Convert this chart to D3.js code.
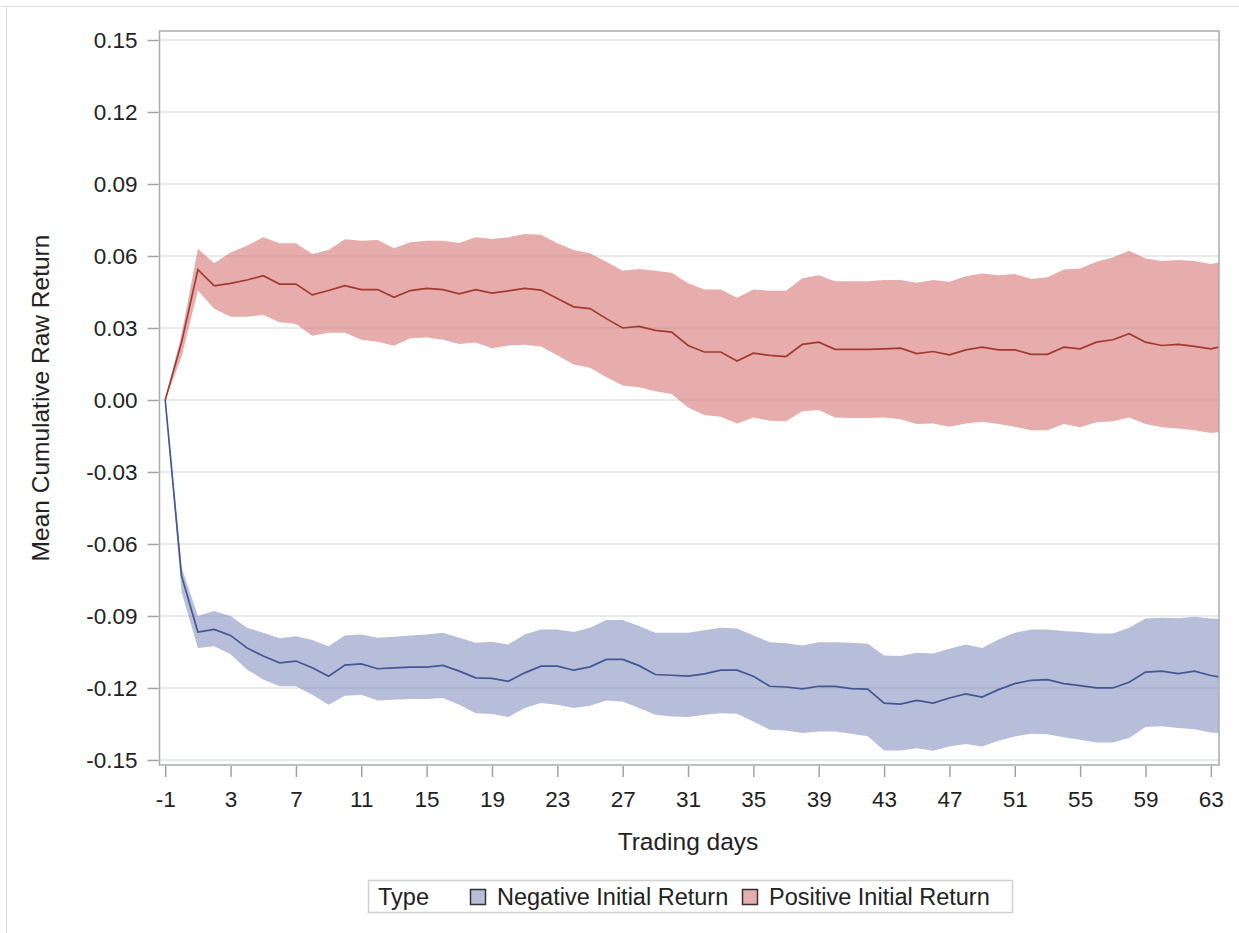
<!DOCTYPE html>
<html>
<head>
<meta charset="utf-8">
<script src="https://cdn.jsdelivr.net/npm/d3@7"></script>
<style>
  body { margin: 0; background: #fff; }
  text { font-family: "Liberation Sans", Arial, sans-serif; fill: #222; }
</style>
</head>
<body>
<script>
        var w = 1239;
        var h = 933;

        // trading days -1 .. 64 (last one is cut by the frame)
        var days = [-1, 0, 1, 2, 3, 4, 5, 6, 7, 8, 9, 10, 11, 12, 13, 14, 15, 16, 17, 18, 19,
                    20, 21, 22, 23, 24, 25, 26, 27, 28, 29, 30, 31, 32, 33, 34, 35, 36, 37, 38, 39,
                    40, 41, 42, 43, 44, 45, 46, 47, 48, 49, 50, 51, 52, 53, 54, 55, 56, 57, 58, 59,
                    60, 61, 62, 63, 64];

        var posMean = [0, 0.024, 0.0543, 0.0476, 0.0486, 0.050, 0.0518, 0.0483, 0.0483, 0.0438, 0.0456,
                    0.0476, 0.046, 0.046, 0.0428, 0.0456, 0.0465, 0.046, 0.0442, 0.046, 0.0445,
                    0.0455, 0.0465, 0.0458, 0.0423, 0.0388, 0.0381, 0.0339, 0.030, 0.0307, 0.029,
                    0.0283, 0.0227, 0.020, 0.020, 0.0162, 0.0195, 0.0186, 0.0181, 0.0232, 0.0241,
                    0.0211, 0.0211, 0.0211, 0.0213, 0.0216, 0.0193, 0.0202, 0.0188, 0.0209, 0.022,
                    0.0209, 0.0209, 0.019, 0.019, 0.022, 0.0213, 0.0241, 0.0251, 0.0276, 0.0241,
                    0.0227, 0.0232, 0.0223, 0.0213, 0.0228];
        var posUpper = [0, 0.0275, 0.063, 0.057, 0.0615, 0.0643, 0.0678, 0.0653, 0.0653, 0.0608, 0.0625,
                    0.067, 0.0664, 0.0667, 0.0632, 0.0657, 0.0664, 0.0664, 0.0654, 0.0678, 0.0671,
                    0.0678, 0.0692, 0.0688, 0.0653, 0.0625, 0.0611, 0.0576, 0.0539, 0.0546, 0.0539,
                    0.053, 0.0486, 0.046, 0.046, 0.0426, 0.046, 0.0455, 0.0455, 0.0507, 0.052,
                    0.0495, 0.0495, 0.0495, 0.050, 0.050, 0.0488, 0.050, 0.0493, 0.0516, 0.0527,
                    0.052, 0.0525, 0.0504, 0.0511, 0.0544, 0.0548, 0.0576, 0.0594, 0.0622, 0.059,
                    0.0579, 0.0583, 0.0579, 0.0567, 0.0578];
        var posLower = [0, 0.018, 0.0456, 0.038, 0.0347, 0.0347, 0.0354, 0.0324, 0.0317, 0.0268, 0.028,
                    0.028, 0.0251, 0.0243, 0.0226, 0.0257, 0.026, 0.0251, 0.0233, 0.024, 0.0216,
                    0.0227, 0.023, 0.0223, 0.0186, 0.0148, 0.0134, 0.0095, 0.006, 0.0053, 0.0036,
                    0.0025, -0.0031, -0.0063, -0.007, -0.0098, -0.0073, -0.0087, -0.0089, -0.0047, -0.0042,
                    -0.0073, -0.0075, -0.0075, -0.0073, -0.008, -0.010, -0.0098, -0.0112, -0.0098, -0.0091,
                    -0.010, -0.0112, -0.0126, -0.0126, -0.010, -0.0114, -0.0093, -0.0089, -0.0073, -0.010,
                    -0.0114, -0.0119, -0.0126, -0.0138, -0.0128];

        var negMean = [0, -0.0733, -0.0967, -0.0956, -0.0981, -0.1033, -0.1067, -0.1095, -0.1088, -0.1116, -0.1151,
                    -0.1105, -0.110, -0.112, -0.1116, -0.1113, -0.1113, -0.1106, -0.113, -0.1158, -0.116,
                    -0.1172, -0.1137, -0.1109, -0.1109, -0.1126, -0.1112, -0.1081, -0.1081, -0.1107, -0.1144,
                    -0.1147, -0.1151, -0.1141, -0.1126, -0.1126, -0.1151, -0.1193, -0.1196, -0.1204, -0.1193,
                    -0.1193, -0.1203, -0.1205, -0.1263, -0.1267, -0.1252, -0.1263, -0.1242, -0.1225, -0.1238,
                    -0.1207, -0.1182, -0.1168, -0.1165, -0.1182, -0.119, -0.120, -0.120, -0.1176, -0.1134,
                    -0.113, -0.114, -0.113, -0.1148, -0.116];
        var negUpper = [0, -0.0698, -0.090, -0.0879, -0.090, -0.0949, -0.097, -0.0993, -0.0984, -0.100, -0.1026,
                    -0.0981, -0.0977, -0.0991, -0.0987, -0.0981, -0.0977, -0.097, -0.0991, -0.1012, -0.1007,
                    -0.1019, -0.0977, -0.0956, -0.0956, -0.0967, -0.0949, -0.0917, -0.0917, -0.0942, -0.097,
                    -0.097, -0.097, -0.0959, -0.0949, -0.0952, -0.0981, -0.1009, -0.1014, -0.1023, -0.1009,
                    -0.1009, -0.1012, -0.1016, -0.1065, -0.1067, -0.1053, -0.1056, -0.1037, -0.1019, -0.1033,
                    -0.0998, -0.097, -0.0956, -0.0956, -0.0963, -0.0967, -0.0973, -0.0973, -0.0949, -0.0911,
                    -0.0907, -0.091, -0.0903, -0.0911, -0.0915];
        var negLower = [0, -0.080, -0.1033, -0.1026, -0.106, -0.1123, -0.1165, -0.1193, -0.1193, -0.1228, -0.127,
                    -0.1232, -0.1228, -0.1252, -0.1249, -0.1246, -0.1246, -0.1242, -0.127, -0.1305, -0.1308,
                    -0.1321, -0.1284, -0.1263, -0.127, -0.1284, -0.1274, -0.1252, -0.1256, -0.1284, -0.1312,
                    -0.1319, -0.1321, -0.1312, -0.1305, -0.1307, -0.134, -0.1374, -0.1377, -0.1388, -0.1381,
                    -0.1381, -0.1391, -0.1401, -0.1461, -0.1461, -0.1451, -0.1462, -0.1444, -0.1433, -0.1444,
                    -0.142, -0.1402, -0.1391, -0.1393, -0.1405, -0.1416, -0.1427, -0.1427, -0.1409, -0.1363,
                    -0.136, -0.1367, -0.1372, -0.1386, -0.139];

        var xTicks = [-1, 3, 7, 11, 15, 19, 23, 27, 31, 35, 39, 43, 47, 51, 55, 59, 63];
        var yTicks = [-0.15, -0.12, -0.09, -0.06, -0.03, 0, 0.03, 0.06, 0.09, 0.12, 0.15];

        var seriesNames = ["Negative Initial Return", "Positive Initial Return"];

        var plotL = 159.5, plotR = 1219, plotT = 31, plotB = 765;

        var xScale = d3.scaleLinear()
                    .domain([-1.35, 63.5])
                    .range([plotL, plotR]);

        var yScale = d3.scaleLinear()
                    .domain([-0.1521, 0.15375])
                    .range([plotB, plotT]);

        // plain hyphen for negatives, like the original
        var fmtY = d3.formatLocale({decimal: ".", thousands: ",", grouping: [3], currency: ["", ""], minus: "-"}).format(".2f");
        var fmtX = (d) => String(d);

        var svg = d3.select("body").append("svg").attr("width", w).attr("height", h);

        // faint outer border (top & left)
        svg.append("line").attr("x1", 0).attr("x2", w).attr("y1", 6.5).attr("y2", 6.5)
            .attr("stroke", "#dcdcdc");
        svg.append("line").attr("x1", 6.5).attr("x2", 6.5).attr("y1", 6).attr("y2", h)
            .attr("stroke", "#dcdcdc");

        svg.append("clipPath").attr("id", "plotclip")
            .append("rect")
            .attr("x", plotL).attr("y", plotT)
            .attr("width", plotR - plotL).attr("height", plotB - plotT);

        //Gridlines
        svg.selectAll("line.grid")
            .data(yTicks).enter()
            .append("line")
            .attr("class", "grid")
            .attr("x1", plotL).attr("x2", plotR)
            .attr("y1", (d) => yScale(d)).attr("y2", (d) => yScale(d))
            .attr("stroke", "#e3e3e3")
            .attr("stroke-width", 1.5);

        var series = [
            {mean: negMean, upper: negUpper, lower: negLower, fill: "#6F7EB3", line: "#445694"},
            {mean: posMean, upper: posUpper, lower: posLower, fill: "#D05B5B", line: "#A23A2E"}
        ];

        var plot = svg.append("g").attr("clip-path", "url(#plotclip)");

        var band = d3.area()
                    .x((d, i) => xScale(days[i]))
                    .y0((d) => yScale(d[0]))
                    .y1((d) => yScale(d[1]));

        var meanLine = d3.line()
                    .x((d, i) => xScale(days[i]))
                    .y((d) => yScale(d));

        //Drawing the bands and mean lines
        series.forEach((s) => {
            plot.append("path")
                .datum(s.lower.map((v, i) => [v, s.upper[i]]))
                .attr("d", band)
                .attr("fill", s.fill)
                .attr("fill-opacity", 0.5);
            plot.append("path")
                .datum(s.mean)
                .attr("d", meanLine)
                .attr("fill", "none")
                .attr("stroke", s.line)
                .attr("stroke-width", 1.7);
        });

        //Frame
        svg.append("rect")
            .attr("x", plotL).attr("y", plotT)
            .attr("width", plotR - plotL).attr("height", plotB - plotT)
            .attr("fill", "none")
            .attr("stroke", "#a8acb0")
            .attr("stroke-width", 1.5);

        //Axes
        var yAxis = d3.axisLeft(yScale)
                    .tickValues(yTicks)
                    .tickFormat(fmtY)
                    .tickSize(11)
                    .tickPadding(10);
        var gy = svg.append("g").attr("transform", "translate(" + (plotL - 1) + ",0)").call(yAxis);

        var xAxis = d3.axisBottom(xScale)
                    .tickValues(xTicks)
                    .tickFormat(fmtX)
                    .tickSize(11)
                    .tickPadding(14);
        var gx = svg.append("g").attr("transform", "translate(0," + (plotB + 1) + ")").call(xAxis);

        [gy, gx].forEach((g) => {
            g.select(".domain").remove();
            g.selectAll(".tick line").attr("stroke", "#a0a4a8").attr("stroke-width", 1.5);
            g.selectAll(".tick text")
                .attr("font-family", "Liberation Sans, Arial, sans-serif")
                .attr("font-size", "22.5px")
                .attr("fill", "#222");
        });

        //Axis labels
        svg.append("text")
            .text("Mean Cumulative Raw Return")
            .attr("transform", "translate(49,398) rotate(-90)")
            .attr("text-anchor", "middle")
            .attr("font-size", "24.5px");

        svg.append("text")
            .text("Trading days")
            .attr("x", 688).attr("y", 850)
            .attr("text-anchor", "middle")
            .attr("font-size", "24.5px");

        //Legend
        var legend = svg.append("g");
        legend.append("rect")
            .attr("x", 368.5).attr("y", 880.5)
            .attr("width", 644).attr("height", 32)
            .attr("fill", "#fff")
            .attr("stroke", "#d0d0d0")
            .attr("stroke-width", 1.5);
        legend.append("text").text("Type")
            .attr("x", 378).attr("y", 905)
            .attr("font-size", "23.5px");

        var legendX = [470, 742];
        legend.selectAll("rect.swatch")
            .data(series).enter()
            .append("rect")
            .attr("class", "swatch")
            .attr("x", (d, i) => legendX[i] + 0.5)
            .attr("y", 889.5)
            .attr("width", 15).attr("height", 15)
            .attr("fill", (d) => d.fill)
            .attr("fill-opacity", 0.5)
            .attr("stroke", "#333")
            .attr("stroke-width", 1.5);
        legend.selectAll("text.item")
            .data(seriesNames).enter()
            .append("text")
            .attr("class", "item")
            .text((d) => d)
            .attr("x", (d, i) => legendX[i] + 27)
            .attr("y", 905)
            .attr("font-size", "23.5px");
</script>
</body>
</html>
